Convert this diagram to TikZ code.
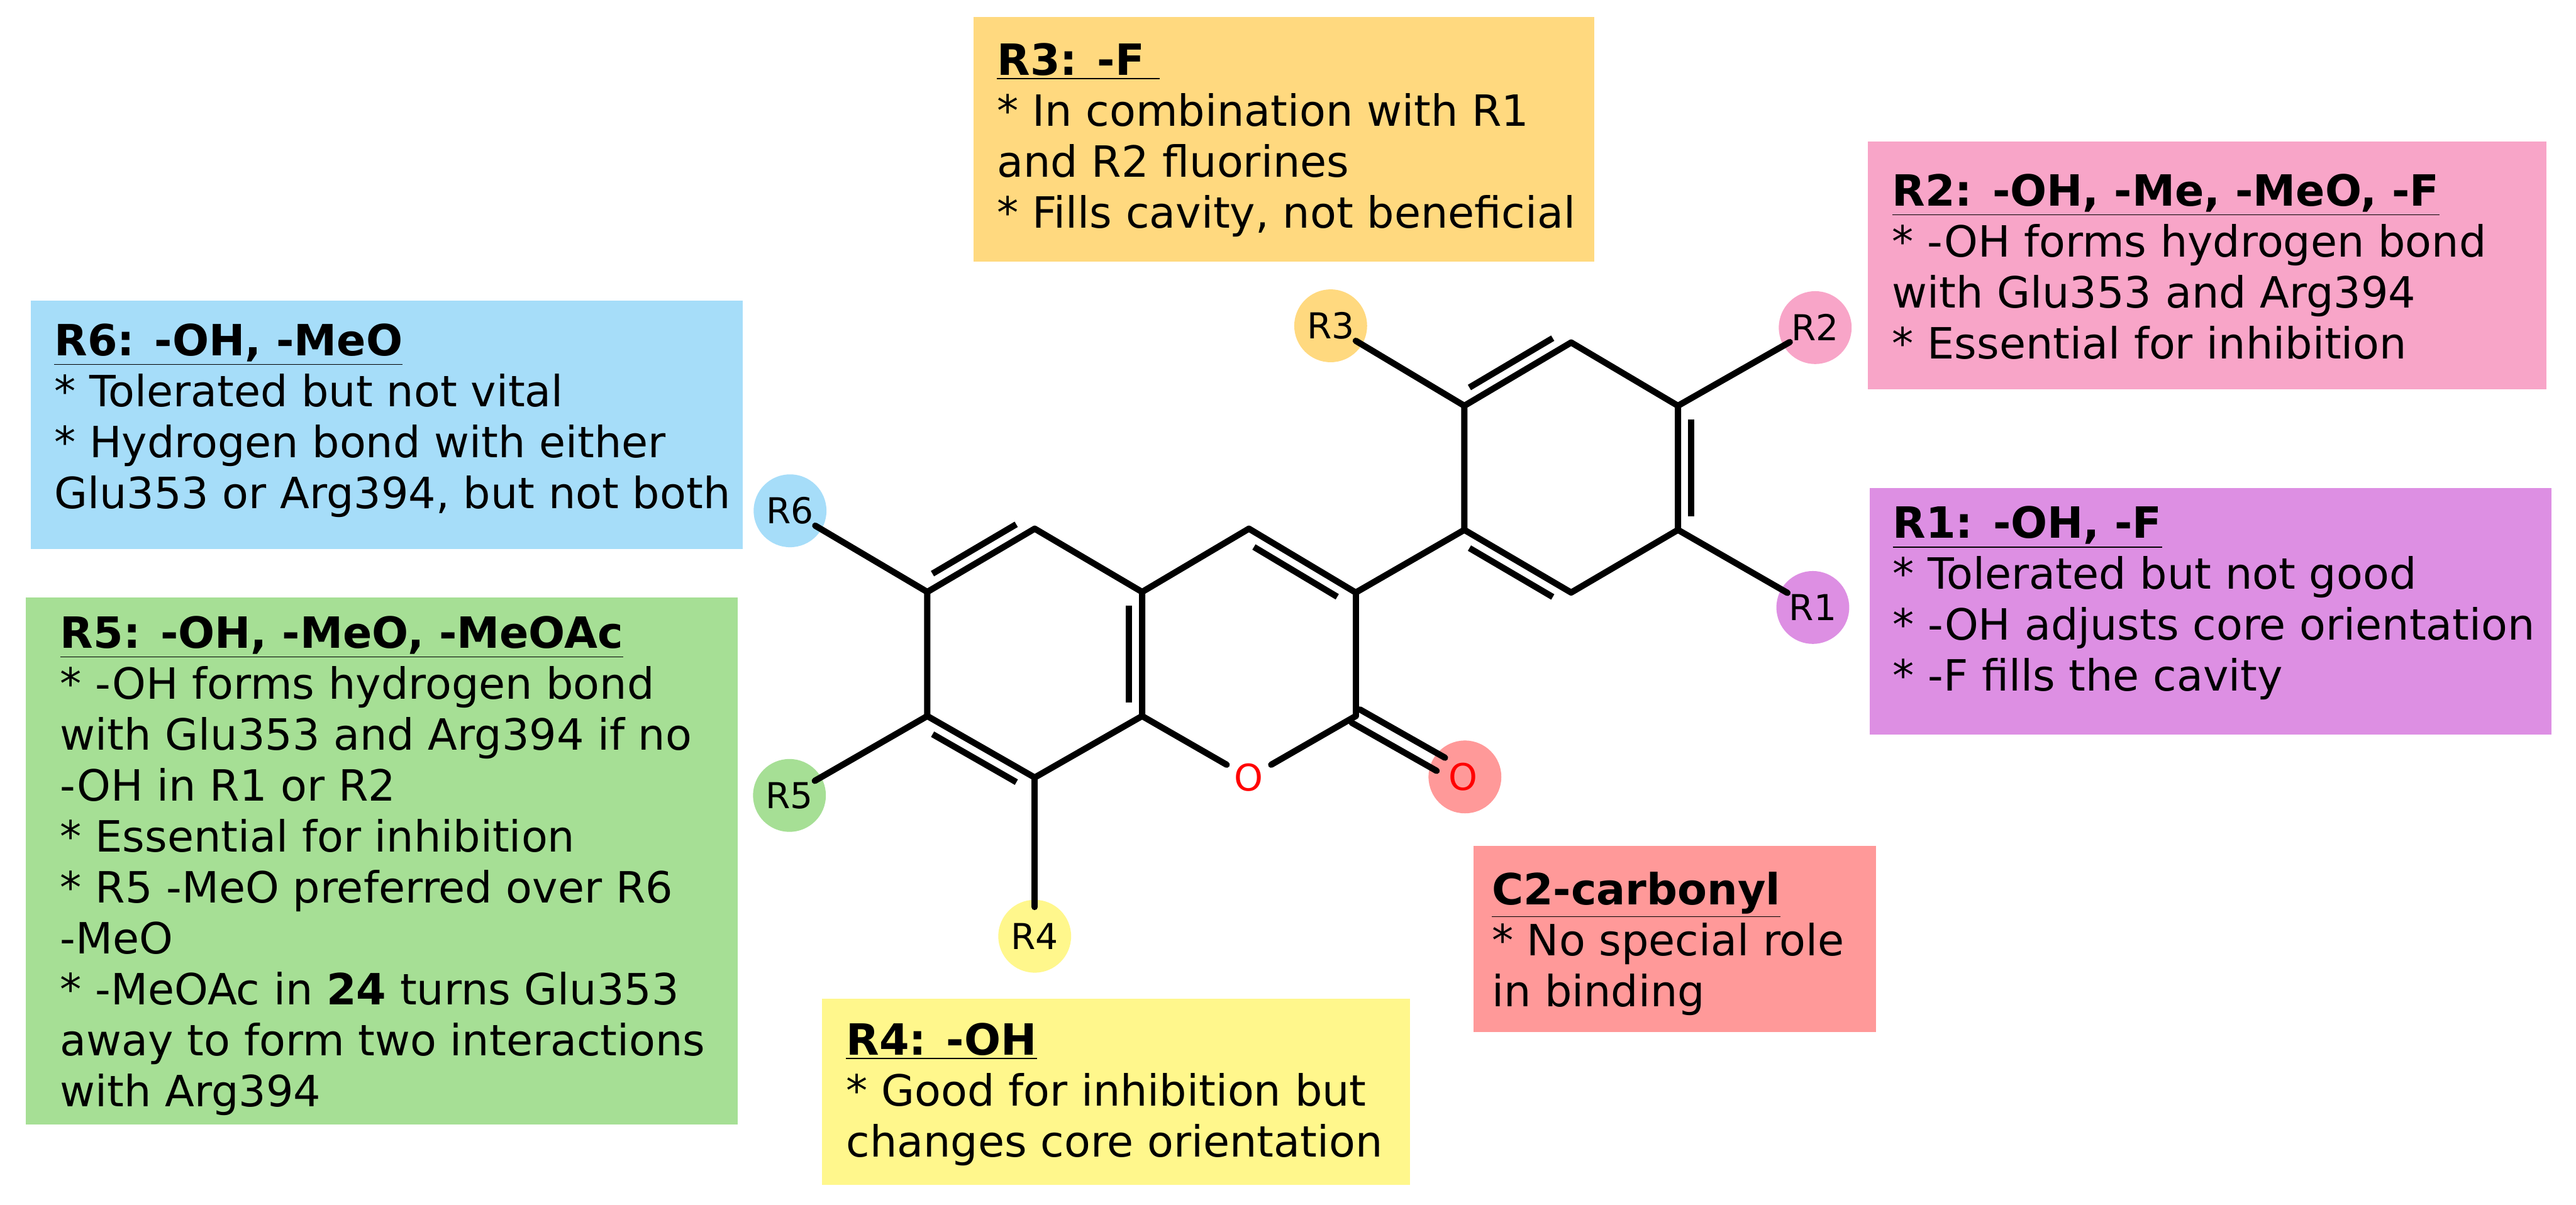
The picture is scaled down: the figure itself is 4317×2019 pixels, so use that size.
\documentclass[tikz,border=0pt]{standalone}
\usepackage{fontspec}
\setmainfont{DejaVu Sans}
\usetikzlibrary{calc}
\definecolor{cR1}{HTML}{DD8FE3}
\definecolor{cR2}{HTML}{F8A5C8}
\definecolor{cR3}{HTML}{FFD97F}
\definecolor{cR4}{HTML}{FFF78C}
\definecolor{cR5}{HTML}{A6DF95}
\definecolor{cR6}{HTML}{A6DDF9}
\definecolor{cC2}{HTML}{FF9999}
\newcommand{\ttl}[1]{\strut\underline{\textbf{#1}}}
\newcommand{\dbl}[3]{\draw[bond,line cap=butt] ($(#1)!0.11!(#2)!0.22cm!#3:(#2)$) -- ($(#2)!0.11!(#1)!0.22cm!-#3:(#1)$);}
\begin{document}
\begin{tikzpicture}[x=0.01cm,y=-0.01cm,
  bond/.style={draw=black,line width=0.105cm,line cap=round,line join=round},
  panel/.style={anchor=north west,inner sep=0pt,outer sep=0pt,draw=none},
  note/.style={anchor=north west,inner sep=0pt,outer sep=0pt,align=left,font=\fontsize{20.5}{24.3}\selectfont,text=black},
  halo/.style={circle,inner sep=0pt,outer sep=0pt,minimum size=1.22cm,draw=none},
  rlab/.style={circle,inner sep=0pt,outer sep=0pt,minimum size=0.98cm,font=\fontsize{17}{19}\selectfont,text=black},
  oxy/.style={circle,inner sep=0pt,outer sep=0pt,minimum size=0.86cm,font=\fontsize{17.5}{19}\selectfont,text=red},
  atom/.style={coordinate}]
\useasboundingbox (0,0) rectangle (4317,2019);
\fill[white] (0,0) rectangle (4317,2019);
% panels
\node[panel,fill=cR3,minimum width=10.39cm,minimum height=4.10cm] (pR3) at (1632,28) {};
\node[panel,fill=cR2,minimum width=11.37cm,minimum height=4.15cm] (pR2) at (3130,237) {};
\node[panel,fill=cR1,minimum width=11.42cm,minimum height=4.13cm] (pR1) at (3133,818) {};
\node[panel,fill=cR6,minimum width=11.92cm,minimum height=4.16cm] (pR6) at (52,504) {};
\node[panel,fill=cR5,minimum width=11.93cm,minimum height=8.83cm] (pR5) at (43,1001) {};
\node[panel,fill=cC2,minimum width=6.75cm,minimum height=3.11cm] (pC2) at (2469,1418) {};
\node[panel,fill=cR4,minimum width=9.85cm,minimum height=3.11cm] (pR4) at (1377,1674) {};
% notes
\node[note] (tR3) at (1671,66) {\ttl{R3: -F\ }\\* In combination with R1\\and R2 fluorines\\* Fills cavity, not beneficial};
\node[note] (tR2) at (3171,285) {\ttl{R2: -OH, -Me, -MeO, -F}\\* -OH forms hydrogen bond\\with Glu353 and Arg394\\* Essential for inhibition};
\node[note] (tR1) at (3172,842) {\ttl{R1: -OH, -F}\\* Tolerated but not good\\* -OH adjusts core orientation\\* -F fills the cavity};
\node[note] (tR6) at (91,536) {\ttl{R6: -OH, -MeO}\\* Tolerated but not vital\\* Hydrogen bond with either\\Glu353 or Arg394, but not both};
\node[note] (tR5) at (101,1026) {\ttl{R5: -OH, -MeO, -MeOAc}\\* -OH forms hydrogen bond\\with Glu353 and Arg394 if no\\-OH in R1 or R2\\* Essential for inhibition\\* R5 -MeO preferred over R6\\-MeO\\* -MeOAc in \textbf{24} turns Glu353\\away to form two interactions\\with Arg394};
\node[note] (tC2) at (2500,1456) {\ttl{C2-carbonyl}\\* No special role\\in binding};
\node[note] (tR4) at (1418,1708) {\ttl{R4: -OH}\\* Good for inhibition but\\changes core orientation};
% halos
\node[halo,fill=cR1] (hR1) at (3038,1018) {};
\node[halo,fill=cR2] (hR2) at (3042,549) {};
\node[halo,fill=cR3] (hR3) at (2230,546) {};
\node[halo,fill=cR4] (hR4) at (1734,1569) {};
\node[halo,fill=cR5] (hR5) at (1323,1333) {};
\node[halo,fill=cR6] (hR6) at (1324,856) {};
\node[halo,fill=cC2] (hO) at (2455,1302) {};
% labels
\node[rlab] (R1) at (3038,1018) {R1};
\node[rlab] (R2) at (3042,549) {R2};
\node[rlab] (R3) at (2230,546) {R3};
\node[rlab] (R4) at (1734,1569) {R4};
\node[rlab] (R5) at (1323,1333) {R5};
\node[rlab] (R6) at (1324,856) {R6};
\node[oxy] (O1) at (2093,1303) {O};
\node[oxy] (O2) at (2452,1302) {O};
% atoms
\node[atom] (a1) at (2633,574) {};
\node[atom] (a2) at (2812,680) {};
\node[atom] (a3) at (2812,888) {};
\node[atom] (a4) at (2633,993) {};
\node[atom] (a5) at (2454,888) {};
\node[atom] (a6) at (2454,680) {};
\node[atom] (c3) at (2272,993) {};
\node[atom] (c4) at (2093,886) {};
\node[atom] (c4a) at (1914,992) {};
\node[atom] (c5) at (1734,886) {};
\node[atom] (c6) at (1554,992) {};
\node[atom] (c7) at (1554,1200) {};
\node[atom] (c8) at (1734,1303) {};
\node[atom] (c8a) at (1914,1200) {};
\node[atom] (c2) at (2272,1200) {};
% bonds
\draw[bond] (a1) -- (a2) -- (a3) -- (a4) -- (a5) -- (a6) -- cycle;
\draw[bond] (a5) -- (c3) -- (c4) -- (c4a) -- (c5) -- (c6) -- (c7) -- (c8) -- (c8a) -- (c4a);
\draw[bond] (c3) -- (c2);
\draw[bond] (c8a) -- (O1);
\draw[bond] (O1) -- (c2);
\draw[bond] (a6) -- (R3);
\draw[bond] (a2) -- (R2);
\draw[bond] (a3) -- (R1);
\draw[bond] (c6) -- (R6);
\draw[bond] (c7) -- (R5);
\draw[bond] (c8) -- (R4);
\dbl{a6}{a1}{90}
\dbl{a2}{a3}{90}
\dbl{a5}{a4}{-90}
\dbl{c4}{c3}{-90}
\dbl{c6}{c5}{90}
\dbl{c4a}{c8a}{-90}
\dbl{c7}{c8}{-90}
\draw[bond,transform canvas={shift={(0.07cm,0.11cm)}}] (c2) -- (O2);
\draw[bond,transform canvas={shift={(-0.07cm,-0.11cm)}}] (c2) -- (O2);
\end{tikzpicture}
\end{document}
